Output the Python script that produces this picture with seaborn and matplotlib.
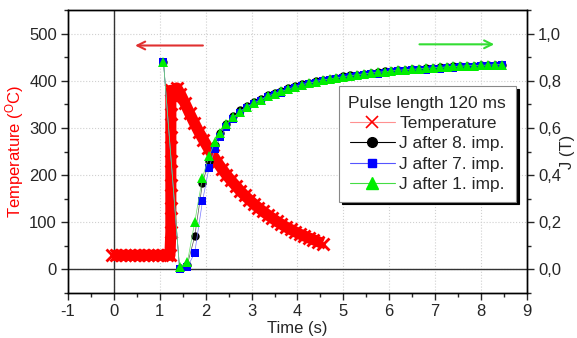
import matplotlib
matplotlib.use("Agg")
import matplotlib.pyplot as plt
from matplotlib.lines import Line2D
from matplotlib.ticker import MultipleLocator, FuncFormatter
import seaborn as sns

# temperature trace (s, degC)
temp_time = [-0.05, 0.05, 0.15, 0.25, 0.35, 0.45, 0.55, 0.65, 0.75, 0.85, 0.95, 1.05, 1.15, 1.22,
             1.24, 1.24, 1.24, 1.24, 1.24, 1.24, 1.24, 1.3, 1.37,
             1.45, 1.55, 1.65, 1.75, 1.85, 1.95, 2.05, 2.15, 2.25, 2.35, 2.45, 2.55, 2.65, 2.75,
             2.85, 2.95, 3.05, 3.15, 3.25, 3.35, 3.45, 3.55, 3.65, 3.75, 3.85, 3.95, 4.05, 4.15,
             4.25, 4.35, 4.45, 4.55]
temp_vals = [30, 30, 30, 30, 30, 30, 30, 30, 30, 30, 30, 30, 30, 30,
             80, 130, 180, 230, 280, 330, 380, 365, 385,
             372, 352, 331, 311, 292, 275, 258, 243, 228, 214, 201, 189, 178, 167,
             157, 148, 139, 131, 123, 116, 109, 102, 96, 90, 85, 80, 75, 71,
             67, 63, 59, 55]

# J (T) after impulses
j_time = [1.08, 1.43, 1.6, 1.76, 1.93, 2.07, 2.2, 2.32, 2.45, 2.6, 2.75, 2.9, 3.05, 3.2, 3.35,
          3.5, 3.65, 3.8, 3.95, 4.1, 4.25, 4.4, 4.55, 4.7, 4.85, 5.0, 5.15, 5.3, 5.45, 5.6,
          5.75, 5.9, 6.05, 6.2, 6.35, 6.5, 6.65, 6.8, 6.95, 7.1, 7.25, 7.4, 7.55, 7.7, 7.85,
          8.0, 8.15, 8.3, 8.45]
j_after_8 = [0.88, 0.005, 0.02, 0.14, 0.366, 0.46, 0.53, 0.578, 0.618, 0.65, 0.675, 0.695, 0.71,
             0.725, 0.738, 0.748, 0.758, 0.768, 0.777, 0.786, 0.792, 0.798, 0.804, 0.809, 0.814,
             0.819, 0.823, 0.827, 0.831, 0.834, 0.837, 0.84, 0.843, 0.845, 0.847, 0.849, 0.851,
             0.853, 0.855, 0.857, 0.859, 0.861, 0.862, 0.864, 0.865, 0.866, 0.867, 0.868, 0.869]
j_after_7 = [0.88, 0.0, 0.01, 0.07, 0.29, 0.43, 0.51, 0.56, 0.605, 0.638, 0.664, 0.685, 0.7,
             0.715, 0.73, 0.74, 0.75, 0.76, 0.77, 0.779, 0.785, 0.792, 0.798, 0.803, 0.808,
             0.813, 0.817, 0.821, 0.825, 0.828, 0.831, 0.834, 0.837, 0.84, 0.842, 0.844, 0.846,
             0.848, 0.85, 0.852, 0.854, 0.856, 0.857, 0.859, 0.86, 0.861, 0.862, 0.864, 0.866]
j_after_1 = [0.88, 0.01, 0.03, 0.20, 0.39, 0.48, 0.54, 0.58, 0.615, 0.645, 0.67, 0.69, 0.705,
             0.72, 0.735, 0.745, 0.755, 0.765, 0.775, 0.784, 0.79, 0.797, 0.803, 0.808, 0.813,
             0.818, 0.822, 0.826, 0.83, 0.833, 0.836, 0.839, 0.842, 0.845, 0.847, 0.849, 0.851,
             0.853, 0.855, 0.857, 0.859, 0.861, 0.862, 0.864, 0.865, 0.866, 0.867, 0.868, 0.869]

sns.set_style("ticks")
plt.rcParams['font.family'] = ['Liberation Sans', 'DejaVu Sans']
plt.rcParams['mathtext.default'] = 'regular'
plt.rcParams['axes.unicode_minus'] = False
plt.rcParams['font.size'] = 12

fig = plt.figure(figsize=(5.77, 3.38), dpi=100)
ax = fig.add_axes([0.118, 0.133, 0.795, 0.837])
ax2 = ax.twinx()

# grid + zero lines
ax.grid(True, which='major', color='#d0d0d0', linestyle=':', linewidth=0.8)
ax.axhline(0, color='#333333', lw=1, zorder=1)
ax.axvline(0, color='#333333', lw=1, zorder=1)

# temperature band (dense x markers on a thick line)
sns.lineplot(x=temp_time, y=temp_vals, ax=ax, color='red', marker='x',
             markersize=9, markeredgewidth=2, markeredgecolor='red',
             estimator=None, sort=False, zorder=3)
for ln in ax.get_lines():
    if ln.get_marker() == 'x':
        ln.set_linewidth(8)
        ln.set_solid_capstyle('butt')

# J curves
sns.lineplot(x=j_time, y=j_after_8, ax=ax2, color='#555555', linewidth=0.5, marker='o',
             markersize=6, markeredgewidth=0, markerfacecolor='black',
             estimator=None, sort=False)
sns.lineplot(x=j_time, y=j_after_7, ax=ax2, color='#7777ff', linewidth=0.5, marker='s',
             markersize=5.5, markeredgewidth=0, markerfacecolor='blue',
             estimator=None, sort=False)
sns.lineplot(x=j_time, y=j_after_1, ax=ax2, color='#66dd66', linewidth=0.5, marker='^',
             markersize=7.5, markeredgewidth=0, markerfacecolor='#00ee00',
             estimator=None, sort=False)

ax.set_xlim(-1, 9)
ax.set_ylim(-50, 550)
ax2.set_ylim(-0.1, 1.1)
ax.xaxis.set_major_locator(MultipleLocator(1))
ax.xaxis.set_minor_locator(MultipleLocator(0.5))
ax.yaxis.set_major_locator(MultipleLocator(100))
ax.yaxis.set_minor_locator(MultipleLocator(50))
ax2.yaxis.set_major_locator(MultipleLocator(0.2))
ax2.yaxis.set_minor_locator(MultipleLocator(0.1))
ax2.yaxis.set_major_formatter(FuncFormatter(lambda v, p: f"{v:.1f}".replace('.', ',')))
ax.set_yticks([0, 100, 200, 300, 400, 500])
ax2.set_yticks([0, 0.2, 0.4, 0.6, 0.8, 1.0])

for a in (ax, ax2):
    for s in a.spines.values():
        s.set_visible(True)
        s.set_color('black')
        s.set_linewidth(1)
    a.tick_params(which='major', direction='out', length=5, width=1, labelsize=12, pad=3)
    a.tick_params(which='minor', direction='out', length=3, width=1)

ax.set_xlabel('Time (s)', fontsize=12, labelpad=1)
ax.set_ylabel('Temperature ($^{O}$C)', color='red', fontsize=12, labelpad=2)
ax2.set_ylabel('J (T)', fontsize=12, labelpad=-1)

# direction arrows
ax.annotate('', xy=(0.4, 475), xytext=(2.0, 475),
            arrowprops=dict(arrowstyle='->', color='#e03030', lw=1.5, mutation_scale=14))
ax2.annotate('', xy=(8.35, 0.955), xytext=(6.6, 0.955),
             arrowprops=dict(arrowstyle='->', color='#33dd33', lw=1.5, mutation_scale=14))

handles = [
    Line2D([], [], color='#ff9090', lw=0.8, marker='x', markersize=8, markeredgecolor='red',
           markeredgewidth=1.2),
    Line2D([], [], color='black', lw=0.8, marker='o', markersize=7),
    Line2D([], [], color='#5555ff', lw=0.8, marker='s', markersize=6, markerfacecolor='blue',
           markeredgecolor='blue'),
    Line2D([], [], color='#44dd44', lw=0.8, marker='^', markersize=8, markerfacecolor='#00ee00',
           markeredgecolor='#00ee00'),
]
labels = ['Temperature', 'J after 8. imp.', 'J after 7. imp.', 'J after 1. imp.']
leg = ax2.legend(handles, labels, title='Pulse length 120 ms', loc='upper right',
                 bbox_to_anchor=(0.976, 0.732), fontsize=12.5, title_fontsize=12.5,
                 frameon=True, fancybox=False, shadow={'color': 'black', 'alpha': 1},
                 framealpha=1, edgecolor='#888888', borderpad=0.55, labelspacing=0.3,
                 handlelength=2.6, handletextpad=0.25, borderaxespad=0)
leg.get_frame().set_linewidth(0.8)

fig.savefig('out.png', dpi=100, facecolor='white')
